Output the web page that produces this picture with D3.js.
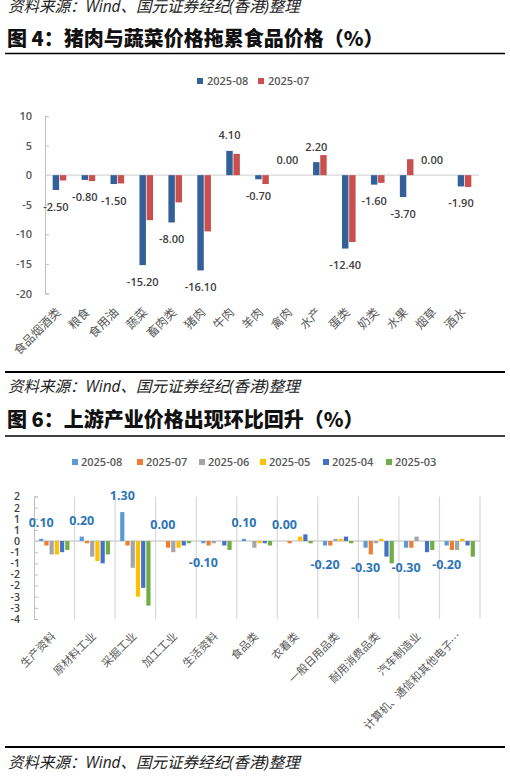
<!DOCTYPE html>
<html lang="zh">
<head>
  <meta charset="UTF-8">
  <title>图4 / 图6</title>
  <style>
    body { margin: 0; background: #fff; }
    svg text { font-family: "Open Sans", "Noto Sans CJK SC", sans-serif; }
  </style>
</head>
<body>
  <svg id="svg" width="510" height="778"></svg>
  <script src="https://cdn.jsdelivr.net/npm/d3@7"></script>
  <script>
    // ---- 图4 data ----
    const foodCats = ['食品烟酒类', '粮食', '食用油', '蔬菜', '畜肉类', '猪肉', '牛肉', '羊肉', '禽肉', '水产', '蛋类', '奶类', '水果', '烟草', '酒水']
    const food08 = [-2.5, -0.8, -1.5, -15.2, -8.0, -16.1, 4.1, -0.7, 0.0, 2.2, -12.4, -1.6, -3.7, 0.0, -1.9]
    const food07 = [-0.9, -1.0, -1.4, -7.6, -4.6, -9.5, 3.6, -1.5, 0.0, 3.4, -11.3, -1.3, 2.7, 0.0, -2.0]
    const foodSeries = ['2025-08', '2025-07']
    const foodTicks = [10, 5, 0, -5, -10, -15, -20]

    // ---- 图6 data ----
    const ppiCats = ['生产资料', '原材料工业', '采掘工业', '加工工业', '生活资料', '食品类', '衣着类', '一般日用品类', '耐用消费品类', '汽车制造业', '计算机、通信和其他电子…']
    const ppi08 = [0.1, 0.2, 1.3, 0.0, -0.1, 0.1, 0.0, -0.2, -0.3, -0.3, -0.2]
    const ppi07 = [-0.2, -0.1, -0.2, -0.3, -0.2, 0.0, -0.1, -0.2, -0.6, -0.3, -0.4]
    const ppi06 = [-0.6, -0.7, -1.2, -0.5, -0.1, -0.3, 0.0, 0.1, -0.1, 0.2, -0.4]
    const ppi05 = [-0.6, -0.9, -2.5, -0.3, 0.0, -0.1, 0.2, 0.1, 0.1, 0.0, 0.1]
    const ppi04 = [-0.5, -1.0, -2.1, -0.2, -0.2, -0.1, 0.3, 0.2, -0.7, -0.5, -0.2]
    const ppi03 = [-0.4, -0.6, -2.9, -0.1, -0.4, -0.2, -0.1, -0.1, -1.0, -0.4, -0.7]
    const ppiSeries = ['2025-08', '2025-07', '2025-06', '2025-05', '2025-04', '2025-03']
    const ppiTicks = [2, 1.5, 1, 0.5, 0, -0.5, -1, -1.5, -2, -2.5, -3, -3.5]

    const svg = d3.select('#svg')
    const source = '资料来源：Wind、国元证券经纪(香港)整理'

    // page texts and rules
    function sourceText(y) {
      svg.append('text').attr('x', 8).attr('y', y)
        .text(source)
        .attr('font-size', 15.5).attr('font-style', 'italic')
        .attr('fill', '#222')
    }
    function title(y, txt) {
      svg.append('text').attr('x', 7).attr('y', y)
        .text(txt)
        .style('font-family', '"Noto Sans CJK SC", sans-serif')
        .attr('font-size', 20).attr('font-weight', 900)
        .attr('fill', '#111')
    }
    function rule(y, w) {
      svg.append('line').attr('x1', 5).attr('x2', 505).attr('y1', y).attr('y2', y)
        .attr('stroke', '#000').attr('stroke-width', w)
    }

    sourceText(12)
    title(46, '图 4：猪肉与蔬菜价格拖累食品价格（%）')
    rule(53.5, 1.5)

    // ================= Chart 1 =================
    const foodColors = ['#34609A', '#C8504E']
    const x0 = d3.scaleBand().domain(foodCats).range([45, 479])
      .paddingInner(0.48).paddingOuter(0.24)
    const x1 = d3.scaleBand().domain(foodSeries).range([0, x0.bandwidth()]).padding(0.1)
    const y = d3.scaleLinear().domain([-20, 10]).range([293.5, 116])

    // legend
    const leg1 = svg.append('g')
    foodSeries.forEach((s, i) => {
      const lx = 197 + i * 61
      leg1.append('rect').attr('x', lx).attr('y', 78).attr('width', 6).attr('height', 6)
        .attr('fill', foodColors[i])
      leg1.append('text').attr('x', lx + 10).attr('y', 85).text(s)
        .attr('font-size', 11).attr('font-weight', 600).attr('fill', '#595959')
    })

    // y axis
    const yAxis = svg.append('g').attr('transform', 'translate(45,0)')
      .call(d3.axisLeft(y).tickValues(foodTicks).tickSize(-4).tickPadding(13).tickFormat(d3.format('d')))
    yAxis.selectAll('path, line').attr('stroke', '#BFBFBF')
    yAxis.selectAll('text').attr('font-size', 11).attr('font-weight', 600)
      .attr('fill', '#595959').style('font-family', '"Open Sans", sans-serif')
      .text(d => String(d))

    // zero line
    svg.append('line').attr('x1', 45).attr('x2', 479).attr('y1', y(0)).attr('y2', y(0))
      .attr('stroke', '#D9D9D9').attr('stroke-width', 1.2)

    const foodRows = foodCats.map((c, i) => ({ cat: c, vals: [food08[i], food07[i]] }))
    const g1 = svg.append('g')
      .selectAll('g')
      .data(foodRows)
      .join('g')
      .attr('transform', d => `translate(${x0(d.cat)},0)`)

    g1.selectAll('rect')
      .data(d => d.vals.map((v, i) => ({ s: foodSeries[i], v, i })))
      .join('rect')
      .attr('x', d => x1(d.s))
      .attr('width', x1.bandwidth())
      .attr('y', d => y(Math.max(0, d.v)))
      .attr('height', d => Math.abs(y(d.v) - y(0)))
      .attr('fill', d => foodColors[d.i])

    // value labels (2025-08)
    g1.append('text')
      .attr('x', x1('2025-08') + x1.bandwidth() / 2)
      .attr('y', d => d.vals[0] >= 0 ? y(d.vals[0]) - 15.5 : y(d.vals[0]) + 17)
      .attr('dy', '0.35em')
      .attr('text-anchor', 'middle')
      .text(d => d.vals[0].toFixed(2))
      .attr('font-size', 11).attr('font-weight', 600).attr('fill', '#404040')

    // x labels
    svg.append('g').selectAll('text')
      .data(foodCats)
      .join('text')
      .attr('transform', d => `translate(${x0(d) + x0.bandwidth() / 2 + 2},313) rotate(-45)`)
      .attr('text-anchor', 'end')
      .text(d => d)
      .style('font-family', '"Noto Sans CJK SC", sans-serif')
      .attr('font-size', 12).attr('fill', '#595959')

    rule(372, 2.2)
    sourceText(392)

    // ================= Chart 2 =================
    title(427, '图 6：上游产业价格出现环比回升（%）')
    rule(436, 1.5)

    const ppiColors = ['#5B9BD5', '#ED7D31', '#A5A5A5', '#FFC000', '#4472C4', '#70AD47']
    const legX = [72, 137, 199, 260, 323, 386]
    const leg2 = svg.append('g')
    ppiSeries.forEach((s, i) => {
      leg2.append('rect').attr('x', legX[i]).attr('y', 459).attr('width', 6).attr('height', 6)
        .attr('fill', ppiColors[i])
      leg2.append('text').attr('x', legX[i] + 9).attr('y', 466).text(s)
        .attr('font-size', 11).attr('font-weight', 600).attr('fill', '#595959')
    })

    const px0 = d3.scaleBand().domain(ppiCats).range([34, 480])
      .paddingInner(0.2).paddingOuter(0.1)
    const px1 = d3.scaleBand().domain(ppiSeries).range([0, px0.bandwidth()]).padding(0.2)
    const py = d3.scaleLinear().domain([-3.5, 2]).range([619, 496.5])

    // vertical gridlines between categories
    const step = px0.step()
    svg.append('g').selectAll('line')
      .data(ppiCats)
      .join('line')
      .attr('x1', d => px0(d) - px0.paddingInner() * step / 2 + step)
      .attr('x2', d => px0(d) - px0.paddingInner() * step / 2 + step)
      .attr('y1', py(2)).attr('y2', py(-3.5))
      .attr('stroke', '#D9D9D9').attr('stroke-width', 1.2)

    const yAxis2 = svg.append('g').attr('transform', 'translate(34,0)')
      .call(d3.axisLeft(py).tickValues(ppiTicks).tickSize(-4).tickPadding(14)
        .tickFormat(v => (v < 0 ? '-' : '') + Math.round(Math.abs(v))))
    yAxis2.selectAll('path, line').attr('stroke', '#BFBFBF')
    yAxis2.selectAll('text').attr('font-size', 10.5).attr('font-weight', 600)
      .attr('fill', '#404040').style('font-family', '"Open Sans", sans-serif')

    svg.append('line').attr('x1', 34).attr('x2', 480).attr('y1', py(0)).attr('y2', py(0))
      .attr('stroke', '#D0D0D0').attr('stroke-width', 1.5)

    const ppiAll = [ppi08, ppi07, ppi06, ppi05, ppi04, ppi03]
    const ppiRows = ppiCats.map((c, i) => ({ cat: c, vals: ppiAll.map(s => s[i]) }))
    const g2 = svg.append('g')
      .selectAll('g')
      .data(ppiRows)
      .join('g')
      .attr('transform', d => `translate(${px0(d.cat)},0)`)

    g2.selectAll('rect')
      .data(d => d.vals.map((v, i) => ({ s: ppiSeries[i], v, i })))
      .join('rect')
      .attr('x', d => px1(d.s))
      .attr('width', px1.bandwidth())
      .attr('y', d => py(Math.max(0, d.v)))
      .attr('height', d => Math.abs(py(d.v) - py(0)))
      .attr('fill', d => ppiColors[d.i])

    g2.append('text')
      .attr('x', px1('2025-08') + px1.bandwidth() / 2)
      .attr('y', d => d.vals[0] >= 0 ? py(d.vals[0]) - 16 : py(d.vals[0]) + 19.5)
      .attr('dy', '0.35em')
      .attr('text-anchor', 'middle')
      .text(d => d.vals[0].toFixed(2))
      .attr('font-size', 12.5).attr('font-weight', 700).attr('fill', '#2E75B6')

    svg.append('g').selectAll('text')
      .data(ppiCats)
      .join('text')
      .attr('transform', d => `translate(${px0(d) + px0.bandwidth() / 2 + 2},637) rotate(-45)`)
      .attr('text-anchor', 'end')
      .text(d => d)
      .style('font-family', '"Noto Sans CJK SC", sans-serif')
      .attr('font-size', 11).attr('fill', '#595959')

    rule(747, 2.2)
    sourceText(768)
  </script>
</body>
</html>
